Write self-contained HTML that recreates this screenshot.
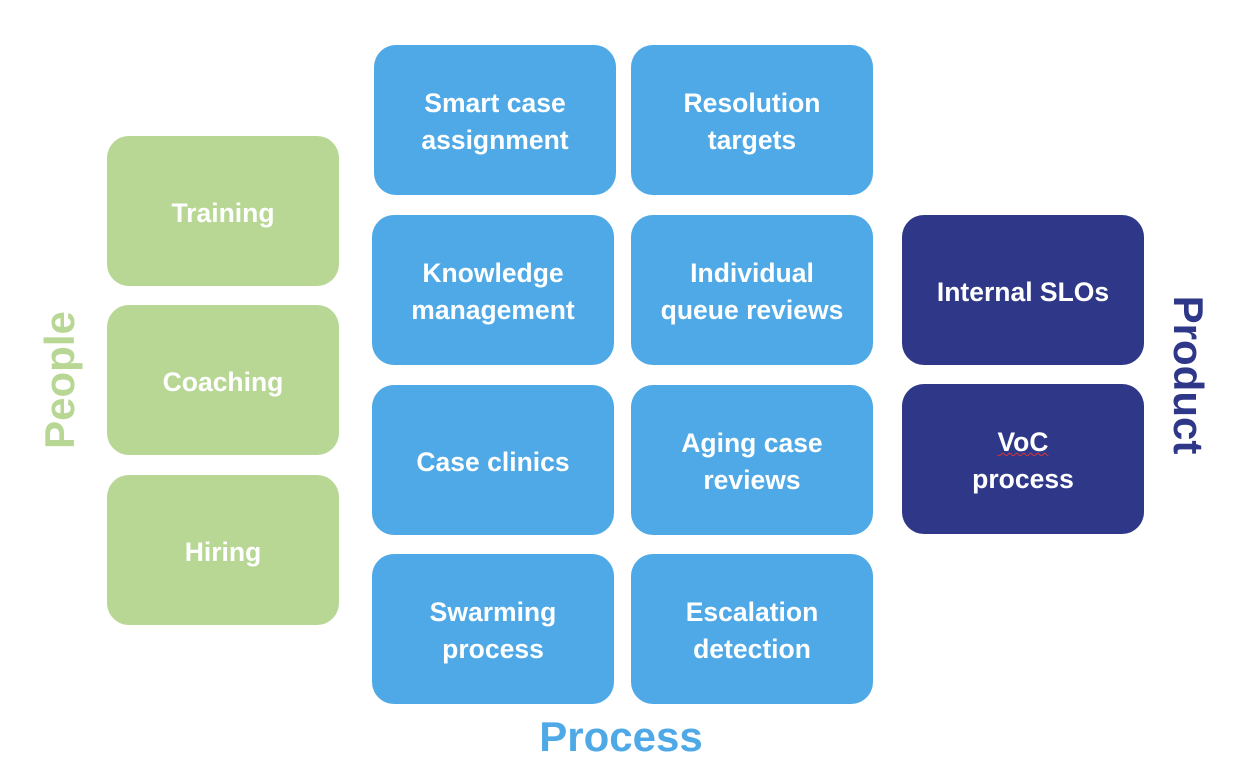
<!DOCTYPE html>
<html><head><meta charset="utf-8"><style>
body{margin:0;width:1236px;height:784px;background:#fff;position:relative;overflow:hidden;font-family:"Liberation Sans",sans-serif;}
.b{position:absolute;border-radius:22px;color:#fff;font-weight:bold;font-size:26.5px;line-height:37px;display:flex;align-items:center;justify-content:center;text-align:center;box-sizing:border-box;padding-top:4px;}
.g{background:#b8d795;width:232px;height:150px;left:107px;}
.u{background:#4ea9e6;width:242px;height:150px;}
.d{background:#2e3788;width:242px;height:150px;left:902px;}
.l{position:absolute;font-weight:bold;font-size:42px;white-space:nowrap;}
</style></head><body>
<div class="b g" style="top:136px">Training</div>
<div class="b g" style="top:305px">Coaching</div>
<div class="b g" style="top:475px">Hiring</div>
<div class="b u" style="left:374px;top:45px">Smart case<br>assignment</div>
<div class="b u" style="left:372px;top:215px">Knowledge<br>management</div>
<div class="b u" style="left:372px;top:385px">Case clinics</div>
<div class="b u" style="left:372px;top:554px">Swarming<br>process</div>
<div class="b u" style="left:631px;top:45px">Resolution<br>targets</div>
<div class="b u" style="left:631px;top:215px">Individual<br>queue reviews</div>
<div class="b u" style="left:631px;top:385px">Aging case<br>reviews</div>
<div class="b u" style="left:631px;top:554px">Escalation<br>detection</div>
<div class="b d" style="top:215px">Internal SLOs</div>
<div class="b d" style="top:384px"><span><span style="text-decoration:underline wavy #d33;text-decoration-thickness:1px">VoC</span><br>process</span></div>
<div class="l" style="color:#b8d795;left:60px;top:380px;transform:translate(-50%,-50%) rotate(-90deg)">People</div>
<div class="l" style="color:#2e3788;left:1188px;top:375px;transform:translate(-50%,-50%) rotate(90deg)">Product</div>
<div class="l" style="color:#4ea9e6;left:621px;top:737px;transform:translate(-50%,-50%)">Process</div>
</body></html>
